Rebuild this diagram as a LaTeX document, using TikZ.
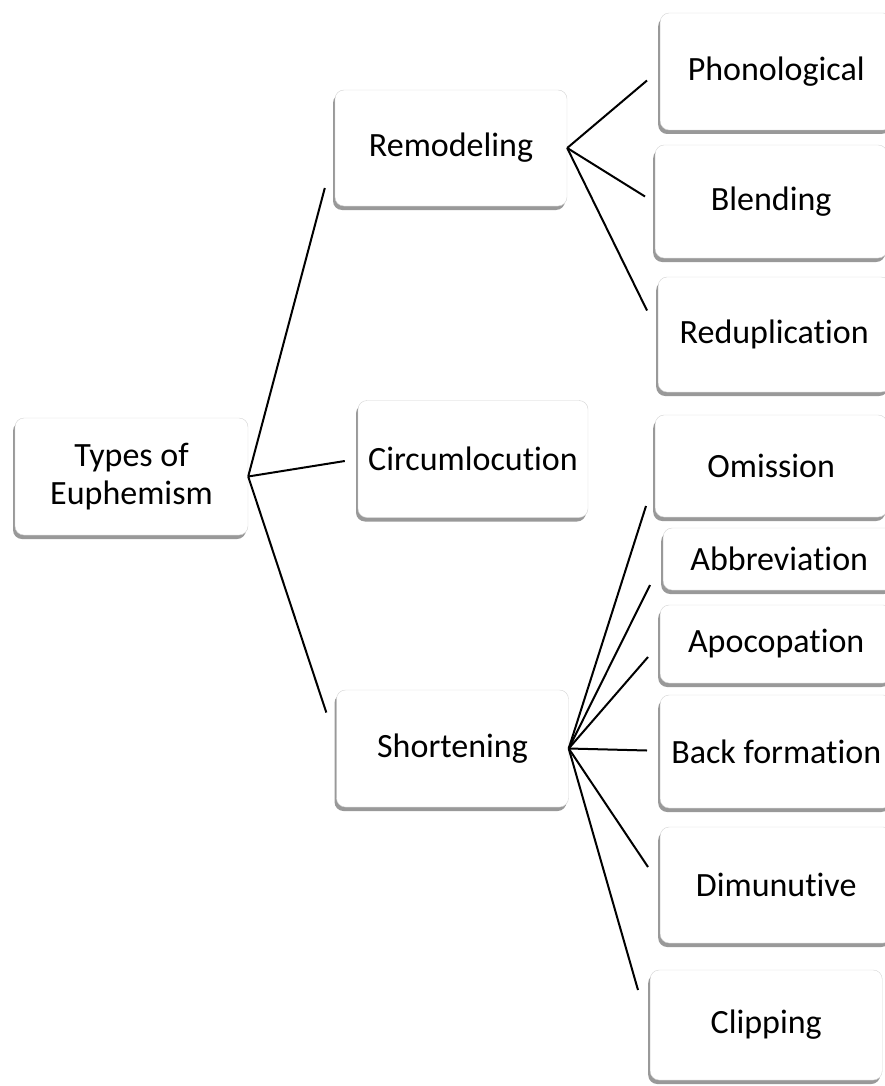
\documentclass[tikz,border=0pt]{standalone}
\usepackage{fontspec}
\setmainfont[Ligatures=NoCommon]{Carlito}
\usetikzlibrary{shadows}
\definecolor{boxedge}{HTML}{D4D4D4}
\definecolor{boxshade}{HTML}{6E6E6E}

\begin{document}
\begin{tikzpicture}[x=1pt, y=-1pt,
    euphbox/.style={draw=boxedge, fill=white, rounded corners=9pt, minimum width=232pt, minimum height=116pt,
      align=center, font=\fontsize{34}{38}\selectfont,
      drop shadow={shadow xshift=-2pt, shadow yshift=-4pt, fill=boxshade, opacity=0.7}},
    leaf/.style={euphbox, anchor=west},
    conn/.style={line width=2pt, black}]
        \useasboundingbox (0,0) rectangle (884,1086);

        % Root
        \node[euphbox, minimum width=233pt, minimum height=117pt] (root) at (131.5,476.5) {Types of\\Euphemism};

        % Main types
        \node[euphbox] (remod) at (451,148) {Remodeling};
        \node[euphbox, minimum width=230pt, minimum height=117pt] (circ) at (473,459) {Circumlocution};
        \node[euphbox, minimum height=117pt] (short) at (452.5,748.5) {Shortening};

        % Remodeling kinds
        \node[leaf, minimum height=117pt] (phon) at (660,71.5) {Phonological};
        \node[leaf, minimum height=113pt] (blend) at (655,201.5) {Blending};
        \node[leaf, minimum height=115pt] (redup) at (658,334.5) {Reduplication};

        % Shortening kinds
        \node[leaf, minimum height=102pt] (omis) at (655,466) {Omission};
        \node[leaf, minimum height=62pt] (abbr) at (663,559) {Abbreviation};
        \node[leaf, minimum height=78pt] (apoc) at (660,644) {Apocopation};
        \node[leaf, minimum height=113pt] (back) at (660,751.5) {Back formation};
        \node[leaf, minimum height=116pt] (dimin) at (660,885) {Dimunutive};
        \node[leaf, minimum height=110pt] (clip) at (650,1025) {Clipping};

        % Root links
        \foreach \kid/\dx/\dy in {remod/-10/40, circ/-13/2, short/-10/-36} {
          \draw[conn] (root.east) -- ([shift={(\dx,\dy)}]\kid.west);
        }

        % Remodeling links
        \foreach \kid/\dx/\dy in {phon/-13/9, blend/-10/-5, redup/-11/-24} {
          \draw[conn] (remod.east) -- ([shift={(\dx,\dy)}]\kid.west);
        }

        % Shortening links
        \foreach \kid/\dx/\dy in {omis/-9/40, abbr/-13/26, apoc/-12/13, back/-13/-1, dimin/-12/-18, clip/-12/-35} {
          \draw[conn] (short.east) -- ([shift={(\dx,\dy)}]\kid.west);
        }
      \end{tikzpicture}
\end{document}
